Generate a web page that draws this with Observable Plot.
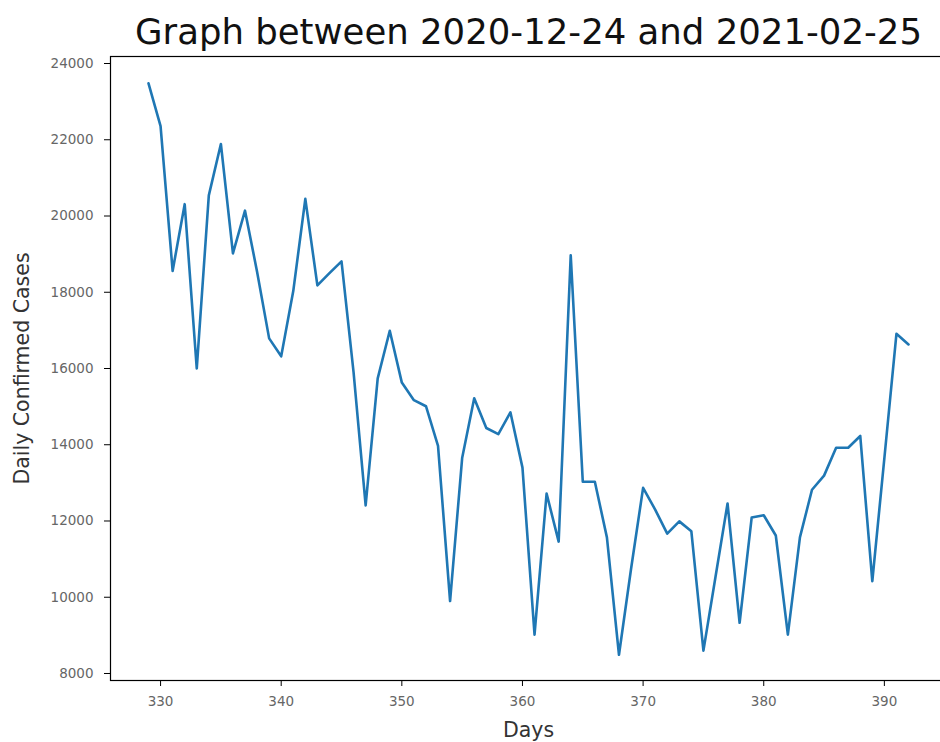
<!DOCTYPE html>
<html>
<head>
<meta charset="utf-8">
<script src="https://cdn.jsdelivr.net/npm/d3@7"></script>
<script src="https://cdn.jsdelivr.net/npm/@observablehq/plot@0.6"></script>
<style>
  html, body { margin: 0; padding: 0; background: #fff; }
  #chart svg { display: block; overflow: hidden; }
</style>
</head>
<body>
<div id="chart"></div>
<script>
// Day numbers (days since the start of the series) and daily confirmed cases
const days = [
  329, 330, 331, 332, 333, 334, 335, 336, 337, 338,
  339, 340, 341, 342, 343, 344, 345, 346, 347, 348,
  349, 350, 351, 352, 353, 354, 355, 356, 357, 358,
  359, 360, 361, 362, 363, 364, 365, 366, 367, 368,
  369, 370, 371, 372, 373, 374, 375, 376, 377, 378,
  379, 380, 381, 382, 383, 384, 385, 386, 387, 388,
  389, 390, 391, 392
];
const cases = [
  23480, 22360, 18560, 20310, 16000, 20540, 21890, 19020, 20140, 18540,
  16790, 16320, 18030, 20450, 18180, 18500, 18810, 15900, 12410, 15740,
  16990, 15630, 15170, 15010, 13970, 9900, 13650, 15220, 14440, 14280,
  14850, 13400, 9020, 12720, 11460, 18970, 13030, 13030, 11570, 8490,
  10740, 12870, 12300, 11670, 11990, 11730, 8600, 10530, 12460, 9330,
  12090, 12150, 11620, 9020, 11570, 12820, 13190, 13920, 13920, 14230,
  10420, 13650, 16910, 16630
];

// Axis ticks
const xTicks = [330, 340, 350, 360, 370, 380, 390];
const yTicks = [8000, 10000, 12000, 14000, 16000, 18000, 20000, 22000, 24000];

// Text
const title = "Graph between 2020-12-24 and 2021-02-25";
const xLabel = "Days";
const yLabel = "Daily Confirmed Cases";

const rows = days.map((d, i) => ({day: d, cases: cases[i]}));

const chart = Plot.plot({
  width: 940,
  height: 742,
  marginTop: 56,
  marginBottom: 62,
  marginLeft: 110,
  marginRight: -6,
  style: {fontFamily: "'DejaVu Sans', sans-serif", background: "#fff", color: "#000"},
  x: {domain: [325.85, 395.15]},
  y: {domain: [7816, 24184]},
  marks: [
    Plot.line(rows, {
      x: "day", y: "cases",
      stroke: "#1f77b4", strokeWidth: 2.6,
      strokeLinejoin: "round", strokeLinecap: "round"
    }),
    Plot.frame({stroke: "#000", strokeWidth: 1.2}),
    Plot.axisX({
      ticks: xTicks, tickFormat: d3.format("d"),
      tickSize: 6, tickPadding: 10, fontSize: 13.5,
      stroke: "#000", fill: "#666", label: null
    }),
    Plot.axisY({
      ticks: yTicks, tickFormat: d3.format("d"),
      tickSize: 6, tickPadding: 11, fontSize: 13.5,
      stroke: "#000", fill: "#666", label: null
    }),
    Plot.text([title], {
      frameAnchor: "top", dy: -24, lineAnchor: "middle",
      fontSize: 35.5, fill: "#111"
    }),
    Plot.text([xLabel], {
      frameAnchor: "bottom", dy: 50, lineAnchor: "middle",
      fontSize: 20.5, fill: "#333"
    }),
    Plot.text([yLabel], {
      frameAnchor: "left", dx: -88, rotate: -90,
      textAnchor: "middle", lineAnchor: "middle",
      fontSize: 20.5, fill: "#333"
    })
  ]
});

document.getElementById("chart").appendChild(chart);
</script>
</body>
</html>
